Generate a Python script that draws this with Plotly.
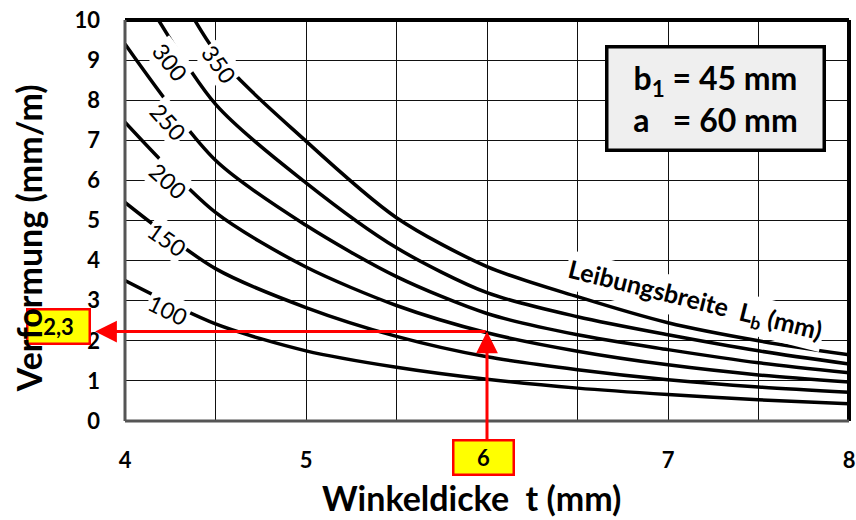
import plotly.graph_objects as go

# ---- data ----
t_values = [4.0, 4.5, 5.0, 5.5, 6.0, 6.5, 7.0, 7.5, 8.0]
curve_labels = ["100", "150", "200", "250", "300", "350"]
v_100 = [3.5, 2.42, 1.75, 1.34, 1.04, 0.82, 0.66, 0.53, 0.43]
v_150 = [5.45, 3.8, 2.83, 2.11, 1.6, 1.28, 1.03, 0.85, 0.72]
v_200 = [7.45, 5.2, 3.84, 2.88, 2.2, 1.74, 1.4, 1.15, 0.97]
v_250 = [9.4, 6.5, 4.88, 3.6, 2.68, 2.15, 1.78, 1.45, 1.2]
v_300 = [11.4, 7.9, 5.94, 4.32, 3.2, 2.6, 2.15, 1.75, 1.42]
v_350 = [13.3, 9.2, 6.98, 5.07, 3.85, 3.1, 2.45, 2.0, 1.65]
series = [v_100, v_150, v_200, v_250, v_300, v_350]

# label positions along each curve (data coords) and rotation
label_x = [4.24, 4.23, 4.24, 4.24, 4.25, 4.52]
label_y = [2.78, 4.53, 5.98, 7.45, 8.95, 8.9]
label_angle = [26, 35, 42, 48, 52, 54]

x_tickvals = [4, 4.5, 5, 5.5, 6, 6.5, 7, 7.5, 8]
x_ticktext = ["4", "", "5", "", "", "", "7", "", "8"]
y_tickvals = list(range(0, 11))
y_ticktext = [str(v) for v in y_tickvals]

# lookup example
t_sel = 6
y_sel = 2.23
y_sel_label = "2,3"
t_sel_label = "6"

FONT = "Lato"

fig = go.Figure()
for vals in series:
    fig.add_trace(go.Scatter(x=t_values, y=vals, mode="lines",
                             line=dict(color="black", width=3.5, shape="spline", smoothing=0.8),
                             showlegend=False, hoverinfo="skip"))

# curve labels
for lx, ly, la, txt in zip(label_x, label_y, label_angle, curve_labels):
    fig.add_annotation(x=lx, y=ly, xref="x", yref="y", text=txt, showarrow=False,
                       textangle=la, bgcolor="white", borderpad=1,
                       xanchor="center", yanchor="middle",
                       font=dict(family=FONT, size=23, color="black"))

fig.add_annotation(x=7.15, y=3.0, xref="x", yref="y",
                   text="Leibungsbreite  L<sub>b</sub> (mm)", showarrow=False,
                   textangle=14, bgcolor="white", borderpad=2,
                   xanchor="center", yanchor="middle",
                   font=dict(family=FONT, size=25, color="black", weight="bold"))

# info box
fig.add_annotation(x=0.815, y=0.805, xref="paper", yref="paper",
                   xanchor="center", yanchor="middle",
                   text="b<sub>1</sub> = 45 mm<br>a\u00a0\u00a0\u00a0= 60 mm",
                   showarrow=False, align="center", bgcolor="#efefef",
                   bordercolor="black", borderwidth=3.5, width=212, height=98,
                   font=dict(family=FONT, size=32, color="black", weight="bold"))

# red arrows
fig.add_annotation(x=3.835, y=y_sel, xref="x", yref="y", ax=t_sel, ay=y_sel,
                   axref="x", ayref="y", text="", showarrow=True, arrowhead=2,
                   arrowsize=1.45, arrowwidth=3, arrowcolor="red", standoff=0)
fig.add_annotation(x=t_sel, y=y_sel, xref="x", yref="y", ax=t_sel, ay=-0.5,
                   axref="x", ayref="y", text="", showarrow=True, arrowhead=2,
                   arrowsize=1.45, arrowwidth=3, arrowcolor="red", standoff=0)

# yellow value boxes
fig.add_annotation(x=-0.092, y=2.35, xref="paper", yref="y", text=y_sel_label,
                   xanchor="center", yanchor="middle",
                   showarrow=False, bgcolor="#ffff00", bordercolor="red", borderwidth=2.5,
                   width=58, height=30,
                   font=dict(family=FONT, size=22, color="black", weight="bold"))
fig.add_annotation(x=5.98, y=-0.09, xref="x", yref="paper", text=t_sel_label,
                   xanchor="center", yanchor="middle",
                   showarrow=False, bgcolor="#ffff00", bordercolor="red", borderwidth=2.5,
                   width=56, height=30,
                   font=dict(family=FONT, size=22, color="black", weight="bold"))

# axis titles
fig.add_annotation(x=-0.133, y=0.455, xref="paper", yref="paper", text="Verformung (mm/m)",
                   xanchor="center", yanchor="middle",
                   showarrow=False, textangle=-90,
                   font=dict(family=FONT, size=34, color="black", weight="bold"))
fig.add_annotation(x=0.479, y=-0.19, xref="paper", yref="paper", text="Winkeldicke\u00a0\u00a0t (mm)",
                   xanchor="center", yanchor="middle",
                   showarrow=False,
                   font=dict(family=FONT, size=34, color="black", weight="bold"))

# frame
fig.add_shape(type="line", xref="paper", yref="paper", x0=0, x1=1, y0=1, y1=1,
              line=dict(color="black", width=4))
fig.add_shape(type="line", xref="paper", yref="paper", x0=1, x1=1, y0=0, y1=1,
              line=dict(color="black", width=4))
fig.add_shape(type="line", xref="paper", yref="paper", x0=0, x1=0, y0=0, y1=1,
              line=dict(color="#555", width=3))
fig.add_shape(type="line", xref="paper", yref="paper", x0=0, x1=1, y0=0, y1=0,
              line=dict(color="#555", width=3))

fig.update_xaxes(range=[4, 8], tickvals=x_tickvals, ticktext=x_ticktext,
                 showgrid=True, gridcolor="#111", gridwidth=1, zeroline=False,
                 ticks="", ticklabelstandoff=24, automargin=False,
                 tickfont=dict(family=FONT, size=22, color="black", weight="bold"))
fig.update_yaxes(range=[0, 10], tickvals=y_tickvals, ticktext=y_ticktext,
                 showgrid=True, gridcolor="#111", gridwidth=1, zeroline=False,
                 ticks="", ticklabelstandoff=24, automargin=False,
                 tickfont=dict(family=FONT, size=22, color="black", weight="bold"))

fig.update_layout(width=856, height=520, margin=dict(l=125, r=7, t=20, b=99),
                  plot_bgcolor="white", paper_bgcolor="white", showlegend=False)

fig.write_html("out.html", config={"displayModeBar": False},
               post_script="document.body.style.margin='0';")
